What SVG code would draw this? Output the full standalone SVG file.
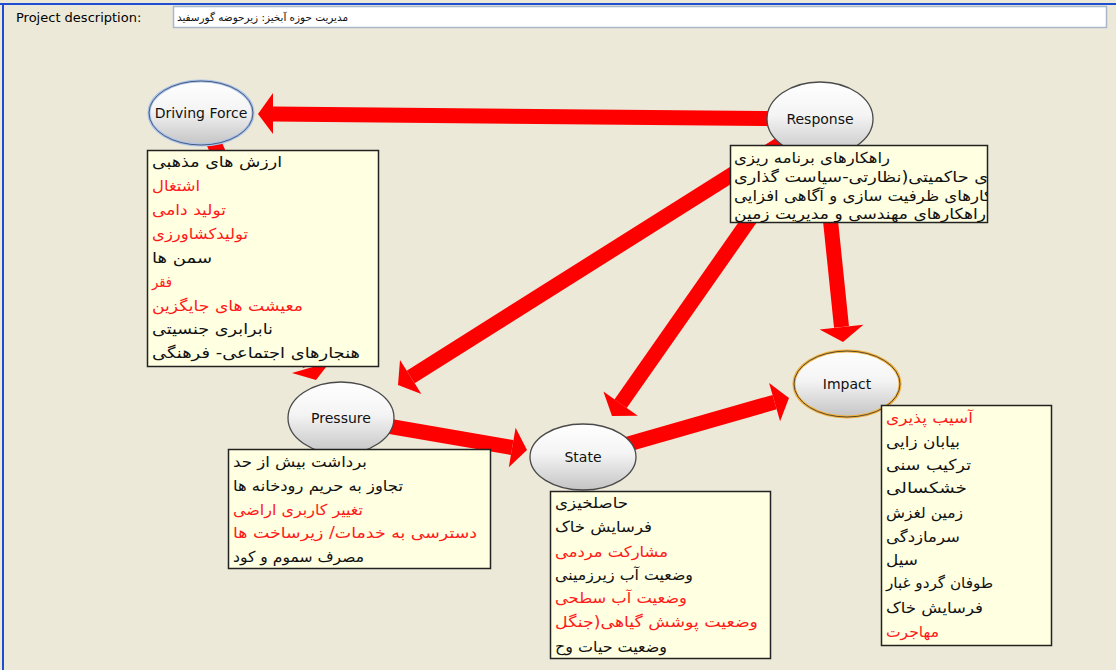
<svg xmlns="http://www.w3.org/2000/svg" width="1116" height="670" viewBox="0 0 1116 670">
<style>
.fa{font-family:"DejaVu Sans",sans-serif;font-size:15px;fill:#111}
.r{fill:#ff1a1a}
.lbl{font-family:"DejaVu Sans",sans-serif;font-size:14px;text-anchor:middle;fill:#111}
.box{fill:#ffffe1;stroke:#222;stroke-width:1.5}
.ell{fill:url(#g);stroke:#4a4a4a;stroke-width:1.3}
.shaft{stroke:#ff0000;stroke-width:15;fill:none}
.head{fill:#ff0000}
</style>
<defs>
<linearGradient id="g" x1="0" y1="0" x2="0" y2="1">
<stop offset="0" stop-color="#ffffff"/>
<stop offset="0.45" stop-color="#f4f4f4"/>
<stop offset="1" stop-color="#c4c4c4"/>
</linearGradient>
<clipPath id="respClip"><rect x="731" y="146" width="256" height="76"/></clipPath>
</defs>
<rect x="0" y="0" width="1116" height="670" fill="#ece9d8"/>
<line x1="0" y1="4" x2="1116" y2="4" stroke="#1f4fd0" stroke-width="2"/>
<line x1="3" y1="4" x2="3" y2="670" stroke="#1f4fd0" stroke-width="2"/>
<g id="header">
<text x="16" y="22" font-family="DejaVu Sans, sans-serif" font-size="13" fill="#000">Project description:</text>
<rect x="173.5" y="6.5" width="933" height="21" fill="#fff" stroke="#a9b8c8" stroke-width="1.5"/>
<text x="177" y="21" class="fa" style="font-size:10.5px" textLength="171" lengthAdjust="spacingAndGlyphs">مدیریت حوزه آبخیز: زیرحوضه گورسفید</text>
</g>
<g id="connectors">
<line class="shaft" x1="820" y1="119" x2="273" y2="114"/>
<polygon class="head" points="258,114 273,93 273,134"/>
<line class="shaft" x1="820" y1="119" x2="410.7" y2="377"/>
<polygon class="head" points="398,385 421.4,393.9 400,360.1"/>
<line class="shaft" x1="820" y1="119" x2="620.6" y2="403.7"/>
<polygon class="head" points="612,416 637.8,415.8 603.4,391.6"/>
<line class="shaft" x1="820" y1="119" x2="841.5" y2="327.1"/>
<polygon class="head" points="843,342 863.4,324.8 819.6,329.4"/>
<line class="shaft" x1="341" y1="418" x2="512.2" y2="447.5"/>
<polygon class="head" points="527,450 508.8,467.2 515.6,427.8"/>
<line class="shaft" x1="583" y1="457" x2="774.6" y2="402.1"/>
<polygon class="head" points="789,398 780.1,421.3 769.1,382.9"/>
<line class="shaft" x1="201" y1="113" x2="310" y2="365"/>
<polygon class="head" points="316,380 330,362 292,373"/>
</g>
<g id="driving-force">
<ellipse cx="201" cy="113" rx="52" ry="32" fill="url(#g)" stroke="#a9c3ec" stroke-width="3"/>
<ellipse cx="201" cy="113" rx="52" ry="32" fill="none" stroke="#4a5a7a" stroke-width="1"/>
<text class="lbl" x="201" y="118">Driving Force</text>
<rect class="box" x="147.5" y="150.5" width="231" height="216"/>
<text class="fa" x="152" y="167" textLength="130" lengthAdjust="spacingAndGlyphs">ارزش های مذهبی</text>
<text class="fa r" x="152" y="191" textLength="48" lengthAdjust="spacingAndGlyphs">اشتغال</text>
<text class="fa r" x="152" y="215" textLength="74" lengthAdjust="spacingAndGlyphs">تولید دامی</text>
<text class="fa r" x="152" y="239" textLength="96" lengthAdjust="spacingAndGlyphs">تولیدکشاورزی</text>
<text class="fa" x="152" y="263" textLength="60" lengthAdjust="spacingAndGlyphs">سمن ها</text>
<text class="fa r" x="152" y="287" textLength="20" lengthAdjust="spacingAndGlyphs">فقر</text>
<text class="fa r" x="152" y="311" textLength="151" lengthAdjust="spacingAndGlyphs">معیشت های جایگزین</text>
<text class="fa" x="152" y="334" textLength="121" lengthAdjust="spacingAndGlyphs">نابرابری جنسیتی</text>
<text class="fa" x="152" y="358" textLength="208" lengthAdjust="spacingAndGlyphs">هنجارهای اجتماعی- فرهنگی</text>
</g>
<g id="response">
<ellipse class="ell" cx="820" cy="119" rx="53" ry="37"/>
<text class="lbl" x="820" y="124">Response</text>
<rect class="box" x="730.5" y="145.5" width="257" height="77"/>
<g clip-path="url(#respClip)">
<text class="fa" x="734" y="163" textLength="156" lengthAdjust="spacingAndGlyphs">راهکارهای برنامه ریزی</text>
<text class="fa" x="734" y="182" textLength="254" lengthAdjust="spacingAndGlyphs">ی حاکمیتی(نظارتی-سیاست گذاری</text>
<text class="fa" x="734" y="201" textLength="258" lengthAdjust="spacingAndGlyphs">کارهای ظرفیت سازی و آگاهی افزایی</text>
<text class="fa" x="734" y="219" textLength="252" lengthAdjust="spacingAndGlyphs">راهکارهای مهندسی و مدیریت زمین</text>
</g>
</g>
<g id="pressure">
<ellipse class="ell" cx="341" cy="418" rx="53" ry="36"/>
<text class="lbl" x="341" y="423">Pressure</text>
<rect class="box" x="228.5" y="449.5" width="262" height="119"/>
<text class="fa" x="233" y="467" textLength="134" lengthAdjust="spacingAndGlyphs">برداشت بیش از حد</text>
<text class="fa" x="233" y="491" textLength="170" lengthAdjust="spacingAndGlyphs">تجاوز به حریم رودخانه ها</text>
<text class="fa r" x="233" y="515" textLength="130" lengthAdjust="spacingAndGlyphs">تغییر کاربری اراضی</text>
<text class="fa r" x="233" y="538" textLength="244" lengthAdjust="spacingAndGlyphs">دسترسی به خدمات/ زیرساخت ها</text>
<text class="fa" x="233" y="562" textLength="131" lengthAdjust="spacingAndGlyphs">مصرف سموم و کود</text>
</g>
<g id="state">
<ellipse class="ell" cx="583" cy="457" rx="53" ry="33"/>
<text class="lbl" x="583" y="462">State</text>
<rect class="box" x="550.5" y="491.5" width="220" height="167"/>
<text class="fa" x="555" y="508" textLength="73" lengthAdjust="spacingAndGlyphs">حاصلخیزی</text>
<text class="fa" x="555" y="532" textLength="97" lengthAdjust="spacingAndGlyphs">فرسایش خاک</text>
<text class="fa r" x="555" y="557" textLength="113" lengthAdjust="spacingAndGlyphs">مشارکت مردمی</text>
<text class="fa" x="555" y="580" textLength="138" lengthAdjust="spacingAndGlyphs">وضعیت آب زیرزمینی</text>
<text class="fa r" x="555" y="603" textLength="132" lengthAdjust="spacingAndGlyphs">وضعیت آب سطحی</text>
<text class="fa r" x="555" y="627" textLength="203" lengthAdjust="spacingAndGlyphs">وضعیت پوشش گیاهی(جنگل</text>
<text class="fa" x="555" y="652" textLength="112" lengthAdjust="spacingAndGlyphs">وضعیت حیات وح</text>
</g>
<g id="impact">
<ellipse cx="847" cy="384" rx="53" ry="33" fill="url(#g)" stroke="#f0b040" stroke-width="3"/>
<ellipse cx="847" cy="384" rx="53" ry="33" fill="none" stroke="#5a4a2a" stroke-width="1"/>
<text class="lbl" x="847" y="389">Impact</text>
<rect class="box" x="881.5" y="405.5" width="170" height="240"/>
<text class="fa r" x="886" y="423" textLength="87" lengthAdjust="spacingAndGlyphs">آسیب پذیری</text>
<text class="fa" x="886" y="447" textLength="74" lengthAdjust="spacingAndGlyphs">بیابان زایی</text>
<text class="fa" x="886" y="470" textLength="85" lengthAdjust="spacingAndGlyphs">ترکیب سنی</text>
<text class="fa" x="886" y="493" textLength="81" lengthAdjust="spacingAndGlyphs">خشکسالی</text>
<text class="fa" x="886" y="518" textLength="77" lengthAdjust="spacingAndGlyphs">زمین لغزش</text>
<text class="fa" x="886" y="542" textLength="74" lengthAdjust="spacingAndGlyphs">سرمازدگی</text>
<text class="fa" x="886" y="565" textLength="32" lengthAdjust="spacingAndGlyphs">سیل</text>
<text class="fa" x="886" y="588" textLength="107" lengthAdjust="spacingAndGlyphs">طوفان گردو غبار</text>
<text class="fa" x="886" y="613" textLength="97" lengthAdjust="spacingAndGlyphs">فرسایش خاک</text>
<text class="fa r" x="886" y="637" textLength="53" lengthAdjust="spacingAndGlyphs">مهاجرت</text>
</g>
</svg>
